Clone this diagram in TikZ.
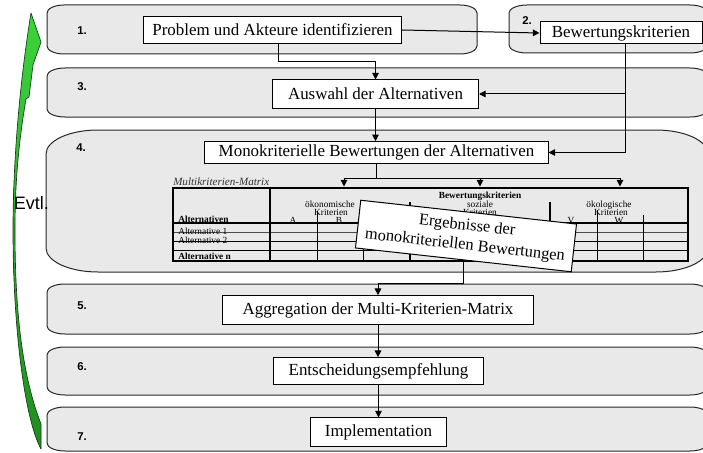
\documentclass[tikz,border=0pt]{standalone}
\usepackage{fontspec}
\setmainfont{Liberation Serif}
\newfontfamily\arialfont{Liberation Sans}
\usetikzlibrary{arrows.meta}
\definecolor{bandfill}{RGB}{233,233,233}
\definecolor{bandline}{RGB}{40,40,40}
\definecolor{arrowtop}{RGB}{60,212,60}
\definecolor{arrowbot}{RGB}{32,140,32}
\definecolor{arrowline}{RGB}{20,60,20}

% band with elliptical corners: x1 y1 x2 y2 rx ry
\newcommand\drawband[6]{%
  \path[bandstyle] (#1,#2+#6) .. controls (#1,#2+0.4477*#6) and (#1+0.4477*#5,#2) .. (#1+#5,#2)
   -- (#3-#5,#2) .. controls (#3-0.4477*#5,#2) and (#3,#2+0.4477*#6) .. (#3,#2+#6)
   -- (#3,#4-#6) .. controls (#3,#4-0.4477*#6) and (#3-0.4477*#5,#4) .. (#3-#5,#4)
   -- (#1+#5,#4) .. controls (#1+0.4477*#5,#4) and (#1,#4-0.4477*#6) .. (#1,#4-#6) -- cycle;}

% outline of the curved feedback arrow
\newcommand\loopoutline{%
  (31,13) -- (41,42) -- (33,65) -- (29,97) -- (26,99)
  .. controls (19,140) and (15,180) .. (15,230)
  .. controls (15,300) and (20,370) .. (41,424)
  -- (41,449)
  .. controls (25,420) and (13,330) .. (13,230)
  .. controls (13,160) and (20,80) .. (31,13) -- cycle}

\begin{document}
\begin{tikzpicture}[x=0.75pt,y=-0.75pt,
  bandstyle/.style={fill=bandfill, draw=bandline, line width=0.75pt},
  stepbox/.style={draw=black, fill=white, line width=0.75pt, inner sep=0pt,
    font=\fontsize{12.7}{15}\selectfont},
  num/.style={font=\arialfont\bfseries\fontsize{8.5}{9}\selectfont, inner sep=0pt},
  conn/.style={line width=0.75pt, draw=black},
  arr/.style={conn, -{Triangle[length=5pt,width=5pt]}},
  mtext/.style={font=\fontsize{7}{8}\selectfont, inner sep=0pt},
  mbold/.style={font=\bfseries\fontsize{7}{8}\selectfont, inner sep=0pt},
  outerrule/.style={line width=2.2pt},
  grouprule/.style={line width=1.9pt},
  rowrule/.style={line width=1.1pt},
  cellrule/.style={line width=0.75pt},
]
\useasboundingbox (0,0) rectangle (703,453);
\clip (0,0) rectangle (703,453);

% phase bands
\drawband{47}{5}{477}{54}{17}{8}
\drawband{509}{5}{708}{53}{18}{8}
\drawband{47}{68}{708}{117}{18}{8}
\drawband{46}{130}{708}{272}{52}{24}
\drawband{47}{284}{708}{334}{18}{8}
\drawband{47}{347}{708}{395}{18}{8}
\drawband{47}{407}{708}{451}{18}{8}

% phase numbers
\node[num] (n1) at (82,31) {1.};
\node[num] (n2) at (527,21) {2.};
\node[num] (n3) at (82,87) {3.};
\node[num] (n4) at (81,148) {4.};
\node[num] (n5) at (82,306) {5.};
\node[num] (n6) at (82,367) {6.};
\node[num] (n7) at (82,437) {7.};

% feedback arrow on the left, green gradient from top to bottom
\begin{scope}
  \clip \loopoutline;
  \shade[top color=arrowtop, bottom color=arrowbot] (8,10) rectangle (45,452);
\end{scope}
\draw[arrowline, line width=0.5pt, line join=round] \loopoutline;
\node[font=\arialfont\fontsize{13.5}{15}\selectfont, anchor=west, inner sep=0pt] (evtl) at (13.5,203) {Evtl.};

% process steps
\node[stepbox, minimum width=193.8pt, minimum height=20pt] (prob) at (272.5,30) {Problem und Akteure identifizieren};
\node[stepbox, minimum width=121.5pt, minimum height=16.5pt] (bew) at (621,33) {Bewertungskriterien};
\node[stepbox, minimum width=154.5pt, minimum height=21pt] (ausw) at (375.5,94) {Auswahl der Alternativen};
\node[stepbox, minimum width=257.3pt, minimum height=16.2pt] (mono) at (376.5,152.5) {Monokriterielle Bewertungen der Alternativen};
\node[stepbox, minimum width=232.7pt, minimum height=22pt] (agg) at (378,310.3) {Aggregation der Multi-Kriterien-Matrix};
\node[stepbox, minimum width=156.8pt, minimum height=20.5pt] (ent) at (378.5,371.3) {Entscheidungsempfehlung};
\node[stepbox, minimum width=101.6pt, minimum height=21.5pt] (impl) at (378.5,432.3) {Implementation};

% connectors
\coordinate (k1) at (278,62);
\coordinate (k2) at (625,152.5);
\coordinate (k3) at (376.5,178);
\coordinate (d1) at (344,178);
\coordinate (d2) at (480,178);
\coordinate (d3) at (620,178);
\coordinate (mtop) at (0,186.5);
\coordinate (k4) at (463,283.3);

\draw[arr] (prob.east) -- (bew.west);
\draw[arr] (k1 |- prob.south) -- (k1) -| (ausw.north);
\draw[arr] (k2 |- bew.south) -- (k2 |- mono.east) -- (mono.east);
\draw[arr] (k2 |- ausw.east) -- (ausw.east);
\draw[arr] (ausw.south) -- (ausw.south |- mono.north);
\draw[conn] (mono.south) -- (mono.south |- k3);
\draw[conn] (d1) -- (d3);
\draw[arr] (d1) -- (d1 |- mtop);
\draw[arr] (d2) -- (d2 |- mtop);
\draw[arr] (d3) -- (d3 |- mtop);
\draw[arr] (agg.south) -- (agg.south |- ent.north);
\draw[arr] (ent.south) -- (ent.south |- impl.north);

% multi-criteria matrix
\node[font=\itshape\fontsize{8.3}{10}\selectfont, text=black!80, anchor=base west, inner sep=0pt] (mlab) at (173,185.5) {Multikriterien-Matrix};
\draw[line width=1.5pt] (173,223) -- (688,223);
\draw[line width=0.5pt, black!70] (173,232.3) -- (688,232.3);
\draw[rowrule] (173,241.7) -- (688,241.7);
\draw[rowrule] (173,250.5) -- (688,250.5);
\draw[cellrule] (317,211) -- (317,261);
\draw[cellrule] (363,211) -- (363,261);
\draw[cellrule] (463,223) -- (463,261);
\draw[cellrule] (597,210) -- (597,261);
\draw[cellrule] (643,215) -- (643,261);
\draw[grouprule] (410,202) -- (410,261);
\draw[grouprule] (550,202) -- (550,261);
\draw[outerrule] (270,188) -- (270,261);
\draw[outerrule] (173,188) rectangle (688,261);

\node[mbold, anchor=base] (hbew) at (480,198.5) {Bewertungskriterien};
\node[mtext, anchor=base] (hoek1) at (330,207.5) {ökonomische};
\node[mtext, anchor=base] (hoek2) at (331,215) {Kriterien};
\node[mtext, anchor=base] (hsoz1) at (480,207) {soziale};
\node[mtext, anchor=base] (hsoz2) at (480,215.5) {Kriterien};
\node[mtext, anchor=base] (hoko1) at (609,207.5) {ökologische};
\node[mtext, anchor=base] (hoko2) at (611,215) {Kriterien};
\node[mtext, anchor=base] (ca) at (293,223) {A};
\node[mtext, anchor=base] (cb) at (339,223) {B};
\node[mtext, anchor=base] (cv) at (571,223) {V};
\node[mtext, anchor=base] (cw) at (619,223) {W};
\node[mbold, anchor=base west] (r0) at (178,222) {Alternativen};
\node[mtext, anchor=base west] (r1) at (178,234.3) {Alternative 1};
\node[mtext, anchor=base west] (r2) at (178,243.3) {Alternative 2};
\node[mbold, anchor=base west] (rn) at (178,259.5) {Alternative n};

% results of the single-criterion assessments
\node[stepbox, rotate=-6.3, minimum width=162.8pt, minimum height=36pt, align=center,
  font=\fontsize{12.3}{14.8}\selectfont] (erg) at (466,236) {Ergebnisse der\\monokriteriellen Bewertungen};
\draw[arr] (erg.south) -- (erg.south |- k4) -- (agg.north |- k4) -- (agg.north);
\end{tikzpicture}
\end{document}
